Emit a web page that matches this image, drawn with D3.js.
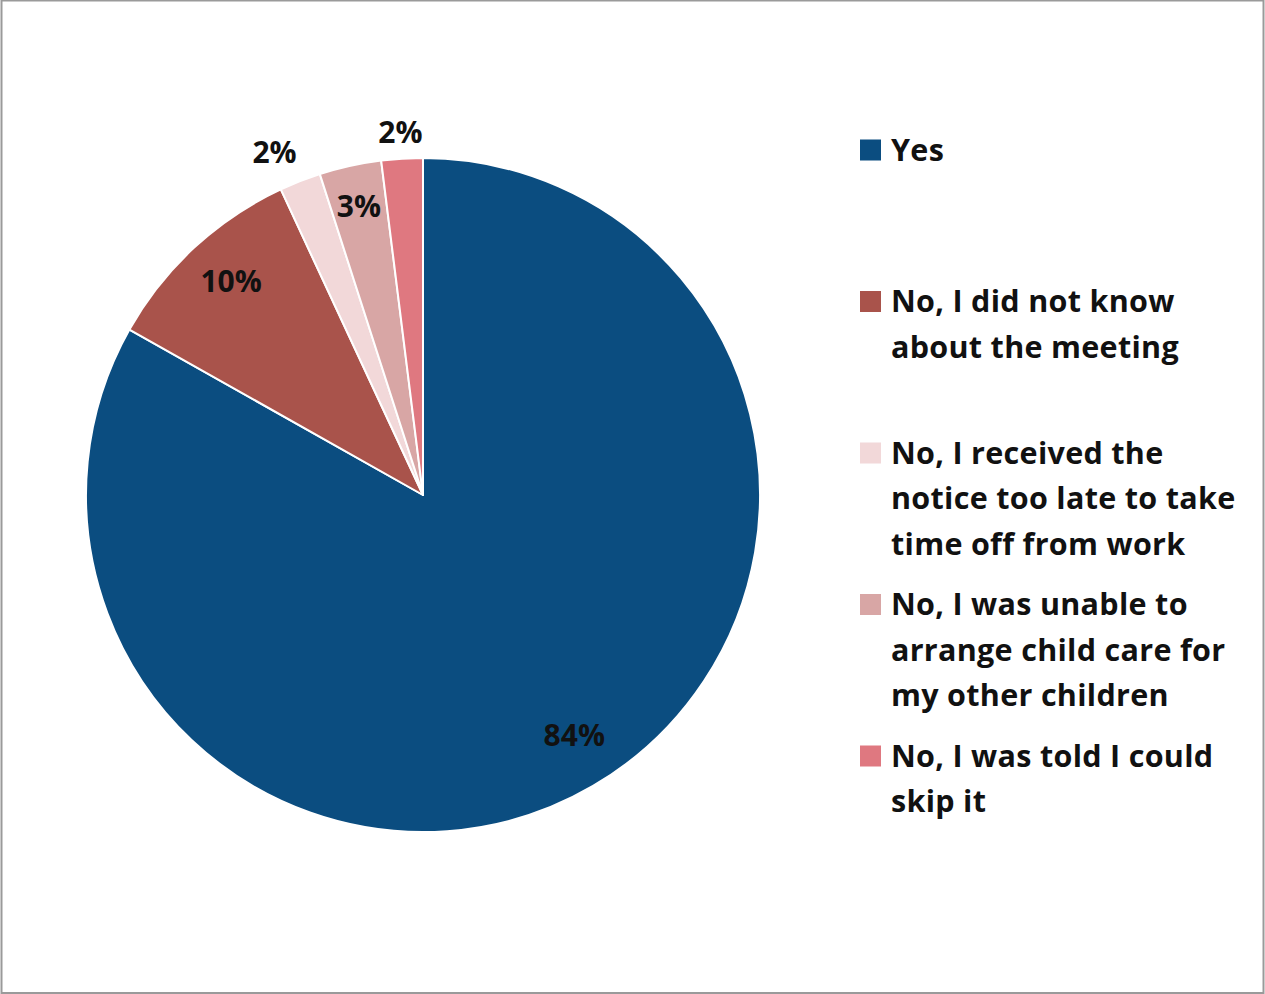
<!DOCTYPE html>
<html>
<head>
<meta charset="utf-8">
<script src="https://cdn.jsdelivr.net/npm/d3@7/dist/d3.min.js"></script>
<style>
  html, body { margin: 0; padding: 0; background: #fff; }
  svg { display: block; }
  text { font-family: "Open Sans", "Noto Sans", sans-serif; font-weight: 700; fill: #111; }
</style>
</head>
<body>
<svg id="chart" width="1265" height="994"></svg>
<script>
// Survey responses: did the parent attend the meeting?
const categories = [
  "Yes",
  "No, I did not know about the meeting",
  "No, I received the notice too late to take time off from work",
  "No, I was unable to arrange child care for my other children",
  "No, I was told I could skip it"
];
const percents = [84, 10, 2, 3, 2];
const valueLabels = ["84%", "10%", "2%", "3%", "2%"];
const legendLines = [
  ["Yes"],
  ["No, I did not know", "about the meeting"],
  ["No, I received the", "notice too late to take", "time off from work"],
  ["No, I was unable to", "arrange child care for", "my other children"],
  ["No, I was told I could", "skip it"]
];
const colors = ["#0b4d80", "#a9534b", "#f2d8d9", "#d8a6a5", "#df7880"];

const W = 1265, H = 994;
const svg = d3.select("#chart");

// outer frame
svg.append("rect")
  .attr("x", 1.5).attr("y", 0.5)
  .attr("width", W - 3).attr("height", H - 1.5)
  .attr("fill", "#fff").attr("stroke", "#9a9a9a").attr("stroke-width", 2);

const cx = 423, cy = 495, R = 337;
const g = svg.append("g").attr("transform", `translate(${cx},${cy})`);

const pie = d3.pie().sort(null).value(d => d.value);
const arcs = pie(categories.map((c, i) => ({ name: c, value: percents[i], i })));
const arc = d3.arc().innerRadius(0).outerRadius(R);

g.selectAll("path.slice")
  .data(arcs)
  .join("path")
  .attr("class", "slice")
  .attr("d", arc)
  .attr("fill", d => colors[d.data.i])
  .attr("stroke", "#fff")
  .attr("stroke-width", 2)
  .attr("stroke-linejoin", "round");

// label distance from centre (fraction of radius) and small angular nudge (degrees)
const labelRadius = [0.84, 0.855, 1.11, 0.88, 1.08];
const labelNudge = [-2, 1, -2, 0, 0];

const labelPos = d => {
  const a = (d.startAngle + d.endAngle) / 2 + labelNudge[d.data.i] * Math.PI / 180;
  const r = R * labelRadius[d.data.i];
  return [Math.sin(a) * r, -Math.cos(a) * r];
};

g.selectAll("text.pct")
  .data(arcs)
  .join("text")
  .attr("class", "pct")
  .attr("text-anchor", "middle")
  .attr("dominant-baseline", "central")
  .attr("font-size", 30)
  .attr("x", d => labelPos(d)[0])
  .attr("y", d => labelPos(d)[1])
  .text(d => valueLabels[d.data.i]);

// legend
const legendX = 860, legendTop = 150, entryStep = 151.5, lineStep = 45.5;
const legend = svg.append("g");
const entries = legend.selectAll("g.entry")
  .data(categories)
  .join("g")
  .attr("class", "entry")
  .attr("transform", (d, i) => `translate(${legendX},${legendTop + i * entryStep})`);

entries.append("rect")
  .attr("x", 0).attr("y", -10.5)
  .attr("width", 21).attr("height", 21)
  .attr("fill", (d, i) => colors[i]);

entries.append("text")
  .attr("font-size", 30.5)
  .attr("letter-spacing", 0.3)
  .selectAll("tspan")
  .data((d, i) => legendLines[i])
  .join("tspan")
  .attr("x", 31)
  .attr("y", (d, j) => j * lineStep)
  .attr("dy", "0.35em")
  .text(d => d);
</script>
</body>
</html>
